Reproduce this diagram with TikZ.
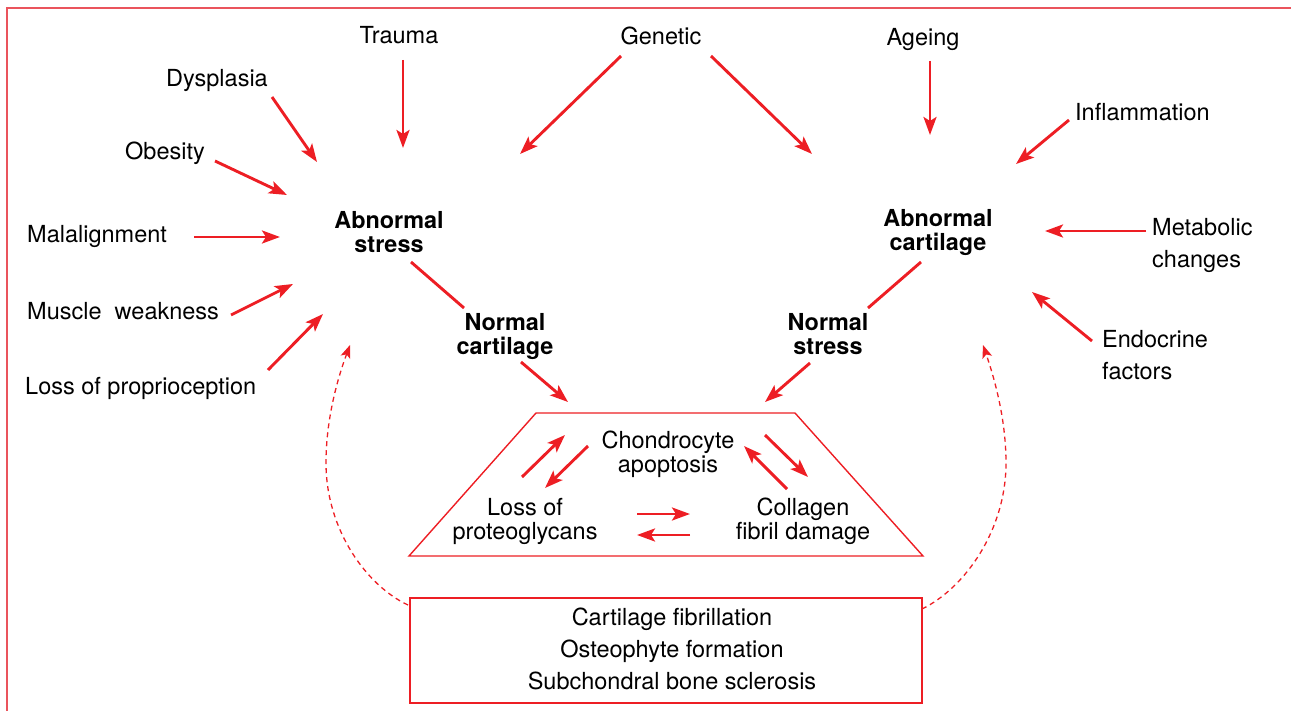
\documentclass[tikz,border=0pt]{standalone}
\usepackage{fontspec}
\setmainfont{TeX Gyre Heros}
\usetikzlibrary{arrows.meta}
\definecolor{ored}{RGB}{237,30,36}
\definecolor{fred}{RGB}{234,84,92}
\begin{document}
\begin{tikzpicture}[x=1pt,y=-1pt,
  txt/.style={font=\fontsize{23.5}{24}\selectfont, inner sep=0pt, anchor=base, align=center, text=black},
  side/.style={font=\fontsize{23.5}{32.5}\selectfont, inner sep=0pt, anchor=base west, align=left, text=black},
  bold/.style={txt, font=\fontsize{23.4}{24}\selectfont\bfseries},
  arr/.style={draw=ored, line width=2.9pt, -{Stealth[length=18pt,width=13pt,inset=4pt]}},
  link/.style={draw=ored, line width=2.9pt},
  frame/.style={draw=ored, line width=1.4pt},
  dashfb/.style={draw=ored, line width=1.3pt, dash pattern=on 5pt off 4pt, -{Stealth[length=13pt,width=10pt,inset=3pt]}}
]
\useasboundingbox (0,0) rectangle (1291,711);
% outer frame (top and left edges)
\draw[draw=fred, line width=1.6pt] (7,711) -- (7,8) -- (1291,8);

% causes (anchor = baseline of last line)
\node[txt] (trauma) at (399,44) {Trauma};
\node[txt] (genetic) at (661,45) {Genetic};
\node[txt] (ageing) at (923,46) {Ageing};
\node[txt] (dysplasia) at (217,87) {Dysplasia};
\node[txt] (obesity) at (165,160) {Obesity};
\node[side] (malalign) at (27,243) {Malalignment};
\node[side] (muscle) at (27,320) {Muscle~~weakness};
\node[side] (proprio) at (25,395) {Loss of proprioception};
\node[side] (inflam) at (1075,121) {Inflammation};
\node[side] (metab) at (1152,268) {Metabolic\\changes};
\node[side] (endo) at (1102,380) {Endocrine\\factors};

% central nodes
\node[bold] (astress) at (389,253) {Abnormal\\stress};
\node[bold] (acart) at (938,251) {Abnormal\\cartilage};
\node[bold] (ncart) at (505,355) {Normal\\cartilage};
\node[bold] (nstress) at (828,355) {Normal\\stress};

% trapezoid
\draw[frame] (536,413) coordinate (tTL) -- (795,413) coordinate (tTR) -- (923,556) coordinate (tBR) -- (409,556) coordinate (tBL) -- cycle;
\node[txt] (chondro) at (668,472) {Chondrocyte\\apoptosis};
\node[txt] (loss) at (525,539) {Loss of\\proteoglycans};
\node[txt] (coll) at (803,539) {Collagen\\fibril damage};

% bottom box
\draw[frame] (410,598) rectangle (922,703);
\node[txt, font=\fontsize{23.5}{32}\selectfont] (result) at (672,689) {Cartilage fibrillation\\Osteophyte formation\\Subchondral bone sclerosis};

% arrow end points
\coordinate (e-trauma) at (403,148);
\coordinate (e-genL) at (520,154);
\coordinate (e-genR) at (812,154);
\coordinate (e-age) at (930,135);
\coordinate (e-dys) at (317,162);
\coordinate (e-obe) at (287,195);
\coordinate (e-mal) at (280,237);
\coordinate (e-mus) at (293,284);
\coordinate (e-pro) at (323,314);
\coordinate (e-inf) at (1016,164);
\coordinate (e-met) at (1045,231);
\coordinate (e-end) at (1032,292);
\coordinate (e-trapL) at (568,402);
\coordinate (e-trapR) at (765,402);

\draw[arr] (403,60) -- (e-trauma);
\draw[arr] (621,56) -- (e-genL);
\draw[arr] (711,56) -- (e-genR);
\draw[arr] (930,61) -- (e-age);
\draw[arr] (272,97) -- (e-dys);
\draw[arr] (215,161) -- (e-obe);
\draw[arr] (194,237) -- (e-mal);
\draw[arr] (231,315) -- (e-mus);
\draw[arr] (268,370) -- (e-pro);
\draw[arr] (1069,120) -- (e-inf);
\draw[arr] (1146,231) -- (e-met);
\draw[arr] (1092,341) -- (e-end);

\draw[link] (411,262) -- (464,308);
\draw[arr] (521,362) -- (e-trapL);
\draw[link] (921,262) -- (868,308);
\draw[arr] (810,363) -- (e-trapR);

% arrows inside trapezoid
\draw[arr] (522,477) -- (565,435);
\draw[arr] (588,446) -- (545,488);
\draw[arr] (765,435) -- (808,477);
\draw[arr] (787,489) -- (744,446);
\draw[arr] (637,514) -- (690,514);
\draw[arr] (690,535) -- (637,535);

% dashed feedback arrows
\draw[dashfb] (922,609) .. controls (965,588) and (1006,530) .. (1006,463)
            .. controls (1006,420) and (995,380) .. (983,345);
\draw[dashfb] (408,605) .. controls (367,586) and (326,530) .. (326,463)
            .. controls (326,420) and (337,380) .. (350,345);
\end{tikzpicture}
\end{document}
